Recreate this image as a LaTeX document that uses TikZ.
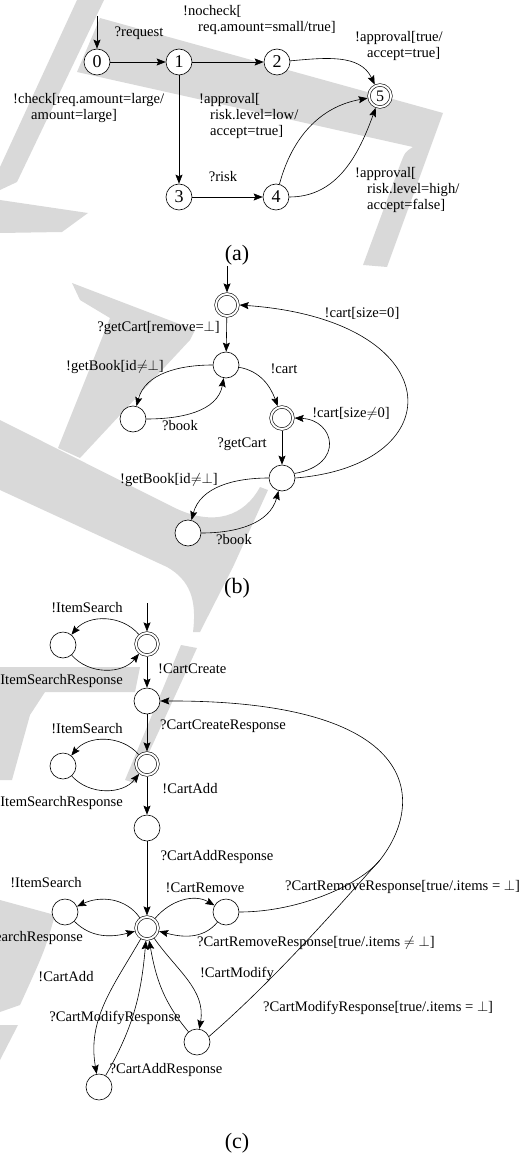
\documentclass[tikz,border=0pt]{standalone}
\usepackage{fontspec}
\setmainfont{Liberation Serif}
\usetikzlibrary{arrows.meta}
\begin{document}
\begin{tikzpicture}[x=1pt,y=1pt,
  st/.style={circle,draw,fill=white,line width=0.6pt,minimum size=26pt,inner sep=0pt,font=\fontsize{18}{20}\selectfont},
  acc/.style={circle,draw,fill=white,line width=0.6pt,double,double distance=2pt,minimum size=22pt,inner sep=0pt,outer sep=1.6pt,font=\fontsize{16}{18}\selectfont},
  lab/.style={font=\fontsize{14.6}{16}\selectfont,inner sep=0pt,align=left},
  captxt/.style={font=\fontsize{22}{24}\selectfont,inner sep=0pt},
  tr/.style={-{Stealth[length=9pt,width=7pt,inset=1.5pt]},line width=0.6pt},
  ln/.style={line width=0.6pt},
  wm/.style={fill=gray!30,draw=none},
]
\useasboundingbox (0,0) rectangle (526,-1158);

% ---------------- background watermark (light grey letter shapes)
\fill[wm] (77,0) -- (104,0) -- (17,-182) -- (0,-190) -- (0,-167) -- cycle;
\fill[wm] (0,-200) -- (88,-213) -- (62,-232) -- (0,-233) -- cycle;
\fill[wm] (100,-18) -- (443,-113) -- (387,-267) -- (363,-265) -- (400,-165) .. controls (405,-152) .. (413,-147) -- (77,-72) -- cycle;
\fill[wm] (72,-283) -- (195,-330) -- (190,-340) -- (80,-458) -- (58,-448) -- (110,-318) -- (80,-300) -- cycle;
\fill[wm] (0,-420) -- (173,-507) .. controls (215,-528) and (245,-515) .. (260,-487) -- (268,-490) -- (233,-567) -- (200,-632) -- (193,-632) .. controls (197,-600) and (190,-580) .. (167,-567) -- (0,-490) -- cycle;
\fill[wm] (181,-645) -- (197,-648) -- (135,-783) -- (125,-780) -- cycle;
\fill[wm] (0,-667) -- (140,-667) -- (135,-692) -- (45,-692) -- (30,-715) -- (12,-780) -- (0,-780) -- cycle;
\fill[wm] (0,-900) -- (55,-915) .. controls (45,-950) .. (20,-1005) -- (0,-1012) -- cycle;
\fill[wm] (0,-1025) -- (18,-1025) -- (0,-1060) -- cycle;

% ---------------- (a)
\node[st] (a0) at (97,-62) {0};
\node[st] (a1) at (179,-62) {1};
\node[st] (a2) at (277,-62) {2};
\node[acc] (a5) at (380,-96) {5};
\node[st] (a3) at (179,-197) {3};
\node[st] (a4) at (276,-197) {4};
\coordinate (ai) at (97,-16);
\draw[tr] (ai) -- (a0);
\draw[tr] (a0) -- (a1);
\draw[tr] (a1) -- (a2);
\draw[tr] (a1) -- (a3);
\draw[tr] (a3) -- (a4);
\draw[tr] (a2) to[out=5,in=115] (a5);
\draw[tr] (a4) to[out=75,in=190] (a5);
\draw[tr] (a4) to[out=0,in=-110] (a5);
\node[lab] (la1) at (139,-33) {?request};
\node[lab,anchor=north west] (la2) at (183,-5) {!nocheck[\\\hspace*{15pt}req.amount=small/true]};
\node[lab,anchor=north west] (la3) at (355,-30.7) {!approval[true/\\\hspace*{12pt}accept=true]};
\node[lab,anchor=north west] (la4) at (13,-93.3) {!check[req.amount=large/\\\hspace*{18pt}amount=large]};
\node[lab,anchor=north west] (la5) at (199,-93.3) {!approval[\\\hspace*{11pt}risk.level=low/\\\hspace*{11pt}accept=true]};
\node[lab] (la6) at (223,-177) {?risk};
\node[lab,anchor=north west] (la7) at (355,-166.7) {!approval[\\\hspace*{12pt}risk.level=high/\\\hspace*{12pt}accept=false]};
\node[captxt] (capa) at (237,-255) {(a)};

% ---------------- (b)
\node[acc] (b0) at (227,-305) {};
\node[st] (b1) at (226,-365) {};
\node[st] (b2) at (133,-419) {};
\node[acc] (b3) at (282,-418) {};
\node[st] (b4) at (282,-478) {};
\node[st] (b5) at (188,-533) {};
\coordinate (bi) at (227,-266);
\draw[tr] (bi) -- (b0);
\draw[tr] (b0) -- (b1);
\draw[tr] (b1) to[out=180,in=75] (b2);
\draw[tr] (b2) to[out=0,in=-100] (b1);
\draw[tr] (b1) to[out=-10,in=110] (b3);
\draw[tr] (b3) -- (b4);
\draw[tr] (b4.20) .. controls (345,-465) and (335,-420) .. (b3.east);
\draw[tr] (b4.east) .. controls (455,-465) and (450,-320) .. (b0.east);
\draw[tr] (b4) to[out=180,in=75] (b5);
\draw[tr] (b5) to[out=0,in=-105] (b4);
\node[lab,anchor=east] (lb1) at (220,-328) {?getCart[remove=$\bot$]};
\node[lab] (lb2) at (115,-367) {!getBook[id$\mathord{\neq}\bot$]};
\node[lab] (lb3) at (180,-426) {?book};
\node[lab] (lb4) at (284,-369) {!cart};
\node[lab] (lb5) at (242,-444) {?getCart};
\node[lab] (lb6) at (351,-414) {!cart[size$\neq$0]};
\node[lab] (lb7) at (362,-313) {!cart[size=0]};
\node[lab] (lb8) at (169,-480) {!getBook[id$\mathord{\neq}\bot$]};
\node[lab] (lb9) at (234,-540) {?book};
\node[captxt] (capb) at (237,-588) {(b)};

% ---------------- (c)
\node[acc] (c0) at (147,-644) {};
\node[st] (s1) at (63,-645) {};
\node[st] (c1) at (147,-701) {};
\node[acc] (c2) at (147,-764) {};
\node[st] (s2) at (63,-766) {};
\node[st] (c3) at (147,-828) {};
\node[acc] (c4) at (147,-928) {};
\node[st] (s3) at (65,-912) {};
\node[st] (cR) at (226,-912) {};
\node[st] (cM) at (197,-1042) {};
\node[st] (cA) at (99,-1087) {};
\coordinate (ci) at (147,-603);
\coordinate (mg) at (380,-860);
\draw[tr] (ci) -- (c0);
\draw[tr] (c0) to[bend right=50] (s1);
\draw[tr] (s1) to[bend right=50] (c0);
\draw[tr] (c0) -- (c1);
\draw[tr] (c1) -- (c2);
\draw[tr] (c2) to[bend right=50] (s2);
\draw[tr] (s2) to[bend right=50] (c2);
\draw[tr] (c2) -- (c3);
\draw[tr] (c3) -- (c4);
\draw[tr] (c4) to[out=125,in=25] (s3);
\draw[tr] (s3) to[out=-45,in=195] (c4);
\draw[tr] (c4) to[out=50,in=150] (cR);
\draw[tr] (cR) to[out=-130,in=-15] (c4);
\draw[tr] (cR.east) .. controls (300,-912) and (361,-884) .. (mg) .. controls (427,-800) and (420,-700) .. (c1.east);
\draw[ln] (cM.25) .. controls (280,-975) and (350,-893) .. (mg);
\draw[tr] (c4) to[out=-55,in=80] (cM);
\draw[tr] (cM) to[out=130,in=-80] (c4);
\draw[tr] (c4) to[out=-120,in=100] (cA);
\draw[tr] (cA) to[out=60,in=-95] (c4);
\node[lab] (lc1) at (87,-608) {!ItemSearch};
\node[lab,anchor=east] (lc2) at (123,-681) {?ItemSearchResponse};
\node[lab,anchor=west] (lc3) at (158,-669) {!CartCreate};
\node[lab,anchor=west] (lc4) at (160,-726) {?CartCreateResponse};
\node[lab] (lc5) at (87,-729) {!ItemSearch};
\node[lab,anchor=east] (lc6) at (123,-803) {?ItemSearchResponse};
\node[lab] (lc7) at (190,-789) {!CartAdd};
\node[lab] (lc8) at (217,-857) {?CartAddResponse};
\node[lab] (lc9) at (46,-883) {!ItemSearch};
\node[lab,anchor=east] (lc10) at (83,-938) {?ItemSearchResponse};
\node[lab] (lc11) at (205,-888) {!CartRemove};
\node[lab,anchor=west] (lc12) at (197,-943) {?CartRemoveResponse[true/.items $\neq$ $\bot$]};
\node[lab,anchor=west] (lc13) at (285,-887) {?CartRemoveResponse[true/.items = $\bot$]};
\node[lab] (lc14) at (237,-974) {!CartModify};
\node[lab] (lc15) at (115,-1018) {?CartModifyResponse};
\node[lab,anchor=west] (lc16) at (263,-1008) {?CartModifyResponse[true/.items = $\bot$]};
\node[lab] (lc17) at (66,-977) {!CartAdd};
\node[lab] (lc18) at (166,-1070) {?CartAddResponse};
\node[captxt] (capc) at (237,-1143) {(c)};
\end{tikzpicture}
\end{document}
